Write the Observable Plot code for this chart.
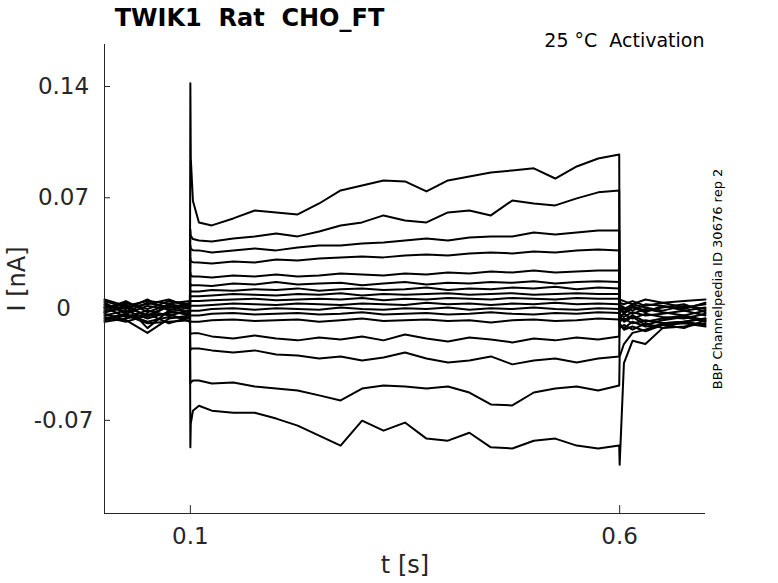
<!DOCTYPE html>
<html><head><meta charset="utf-8">
<script src="https://cdn.jsdelivr.net/npm/d3@7"></script>
<script src="https://cdn.jsdelivr.net/npm/@observablehq/plot@0.6"></script>
<style>body{margin:0;background:#fff;}</style>
</head><body><div id="chart"></div>
<script>
// time grid (s): pre-step, step onset transient, step, post-step
const preT = [0, 0.025, 0.05, 0.075, 0.0995];
const spikeT = [0.1, 0.1005, 0.103];
const stepT = [0.11, 0.125, 0.15, 0.175, 0.2, 0.225, 0.25, 0.275, 0.3, 0.325, 0.35, 0.375, 0.4, 0.425, 0.45, 0.475, 0.5, 0.525, 0.55, 0.575, 0.5995];
const postT = [0.6, 0.605, 0.615, 0.63, 0.65, 0.675, 0.7];

// current (nA) of each sweep, aligned with the grid above
const sweep01 = [0.003, -0.002, 0.004, 0.001, 0.002, 0.142, 0.095, 0.068,
  0.0545, 0.0526, 0.057, 0.062, 0.0608, 0.0595, 0.0664, 0.0746, 0.0777, 0.0809, 0.0803, 0.074, 0.0809, 0.0834, 0.0859, 0.0872, 0.0885, 0.0821, 0.0897, 0.0947, 0.0972,
  0.004, 0.003, 0.005, 0.002, 0.004, 0.001, 0.003];
const sweep02 = [0.006, 0.002, 0.005, 0.0035, 0.005, 0.05, 0.046, 0.044,
  0.0431, 0.0425, 0.0444, 0.0457, 0.0475, 0.0457, 0.0488, 0.0526, 0.0545, 0.0589, 0.0557, 0.0545, 0.0608, 0.062, 0.0589, 0.0683, 0.0664, 0.0652, 0.0696, 0.0734, 0.0746,
  0.006, 0.005, 0.003, 0.006, 0.004, 0.005, 0.006];
const sweep03 = [-0.001, 0.004, 0.0, 0.005, 0.003, 0.04, 0.038, 0.037,
  0.0369, 0.0356, 0.0369, 0.0381, 0.0369, 0.0387, 0.04, 0.04, 0.0413, 0.0419, 0.0431, 0.0444, 0.0431, 0.045, 0.0457, 0.0457, 0.0482, 0.0469, 0.0482, 0.0494, 0.0494,
  0.002, 0.0, 0.003, 0.001, -0.001, 0.002, 0.0];
const sweep04 = [0.002, 0.0, 0.006, -0.001, 0.004, 0.032, 0.03, 0.0295,
  0.0293, 0.0287, 0.0299, 0.0293, 0.0312, 0.0306, 0.0318, 0.0325, 0.0331, 0.0325, 0.0337, 0.0343, 0.0337, 0.035, 0.0356, 0.035, 0.0362, 0.0356, 0.0369, 0.0375, 0.0369,
  0.003, 0.001, -0.001, 0.003, 0.002, 0.0, 0.004];
const sweep05 = [0.0, 0.005, -0.002, 0.003, 0.001, 0.023, 0.021, 0.0205,
  0.0205, 0.0199, 0.0211, 0.0205, 0.0218, 0.0205, 0.0211, 0.0224, 0.0218, 0.0211, 0.0224, 0.0218, 0.023, 0.0224, 0.0236, 0.023, 0.0243, 0.023, 0.0236, 0.0243, 0.0243,
  0.001, -0.002, 0.002, -0.001, 0.001, 0.003, -0.002];
const sweep06 = [0.004, -0.003, 0.002, 0.0, -0.002, 0.016, 0.015, 0.015,
  0.015, 0.0145, 0.016, 0.0155, 0.017, 0.0155, 0.016, 0.0165, 0.015, 0.016, 0.017, 0.0155, 0.0165, 0.016, 0.017, 0.0165, 0.0175, 0.016, 0.017, 0.0175, 0.017,
  0.0, -0.003, 0.001, -0.002, 0.002, -0.001, 0.001];
const sweep07 = [-0.002, 0.001, -0.004, 0.002, 0.0, 0.012, 0.011, 0.011,
  0.011, 0.012, 0.0115, 0.0125, 0.012, 0.013, 0.0115, 0.0125, 0.013, 0.012, 0.0125, 0.0135, 0.012, 0.013, 0.0125, 0.0135, 0.013, 0.014, 0.0125, 0.0135, 0.013,
  -0.002, 0.0, -0.003, 0.0, -0.002, -0.004, -0.001];
const sweep08 = [-0.004, -0.001, -0.006, -0.002, -0.003, 0.008, 0.008, 0.008,
  0.008, 0.0085, 0.0095, 0.009, 0.0085, 0.0095, 0.009, 0.01, 0.0085, 0.0095, 0.009, 0.0095, 0.01, 0.009, 0.0095, 0.01, 0.009, 0.0095, 0.01, 0.0095, 0.0095,
  -0.003, -0.005, -0.002, -0.004, -0.003, -0.001, -0.004];
const sweep09 = [0.001, -0.005, -0.001, -0.004, -0.001, 0.005, 0.005, 0.005,
  0.005, 0.0055, 0.006, 0.0065, 0.0055, 0.006, 0.0065, 0.006, 0.007, 0.0055, 0.0065, 0.006, 0.007, 0.0065, 0.006, 0.007, 0.0065, 0.006, 0.007, 0.0065, 0.0065,
  -0.005, -0.003, -0.006, -0.003, -0.005, -0.006, -0.003];
const sweep10 = [-0.006, -0.003, -0.008, -0.005, -0.006, 0.002, 0.002, 0.002,
  0.002, 0.0025, 0.0035, 0.003, 0.0025, 0.0035, 0.003, 0.0025, 0.0035, 0.003, 0.0025, 0.004, 0.003, 0.0035, 0.0025, 0.0035, 0.003, 0.004, 0.003, 0.0035, 0.003,
  -0.006, -0.007, -0.004, -0.008, -0.006, -0.004, -0.007];
const sweep11 = [-0.003, -0.007, -0.015, -0.006, -0.004, -0.001, -0.001, -0.001,
  -0.001, 0.0, 0.0005, -0.0005, 0.0005, 0.0, -0.0005, 0.001, 0.0, -0.0005, 0.0005, 0.0, 0.001, -0.0005, 0.0005, 0.0, 0.001, 0.0, -0.0005, 0.0005, 0.0,
  -0.008, -0.006, -0.009, -0.007, -0.009, -0.008, -0.006];
const sweep12 = [-0.007, -0.004, -0.009, -0.008, -0.007, -0.004, -0.004, -0.004,
  -0.004, -0.003, -0.0025, -0.0035, -0.003, -0.0025, -0.0035, -0.003, -0.002, -0.0035, -0.003, -0.0025, -0.0035, -0.003, -0.002, -0.003, -0.0035, -0.0025, -0.003, -0.002, -0.0025,
  -0.01, -0.012, -0.008, -0.011, -0.01, -0.009, -0.011];
const sweep13 = [-0.008, -0.006, -0.003, -0.009, -0.005, -0.008, -0.008, -0.008,
  -0.008, -0.007, -0.0065, -0.0075, -0.007, -0.0065, -0.008, -0.007, -0.006, -0.0075, -0.007, -0.0065, -0.0075, -0.007, -0.0085, -0.007, -0.0065, -0.0075, -0.007, -0.006, -0.0065,
  -0.012, -0.01, -0.013, -0.009, -0.012, -0.011, -0.009];
const sweep14 = [0.005, 0.001, 0.003, 0.006, 0.001, -0.016, -0.0155, -0.0153,
  -0.0153, -0.0172, -0.0185, -0.0166, -0.0185, -0.0197, -0.0179, -0.0191, -0.0172, -0.0197, -0.016, -0.0185, -0.0204, -0.0179, -0.0191, -0.021, -0.0185, -0.0197, -0.0179, -0.0191, -0.0172,
  -0.004, -0.008, -0.005, -0.01, -0.007, -0.005, -0.008];
const sweep15 = [-0.005, -0.008, -0.004, -0.003, -0.008, -0.026, -0.025, -0.0248,
  -0.0248, -0.026, -0.0273, -0.026, -0.0286, -0.0292, -0.0311, -0.0298, -0.0323, -0.0305, -0.0273, -0.0311, -0.0336, -0.0323, -0.0298, -0.0348, -0.0323, -0.0311, -0.0336, -0.0311, -0.0298,
  -0.009, -0.013, -0.011, -0.014, -0.01, -0.012, -0.007];
const sweep16 = [0.001, 0.003, -0.005, 0.002, -0.002, -0.047, -0.046, -0.045,
  -0.0449, -0.0468, -0.0462, -0.0487, -0.05, -0.0512, -0.0543, -0.0575, -0.05, -0.0481, -0.0487, -0.05, -0.0487, -0.0525, -0.06, -0.0606, -0.0525, -0.05, -0.0487, -0.0512, -0.0481,
  -0.03, -0.022, -0.015, -0.013, -0.009, -0.008, -0.01];
const sweep17 = [-0.002, 0.002, -0.012, -0.001, -0.004, -0.087, -0.072, -0.064,
  -0.0608, -0.0639, -0.0652, -0.0652, -0.0689, -0.0733, -0.0796, -0.0859, -0.0702, -0.0765, -0.0714, -0.0815, -0.0828, -0.0778, -0.087, -0.0877, -0.0828, -0.0815, -0.0859, -0.0877, -0.0859,
  -0.098, -0.034, -0.02, -0.022, -0.012, -0.008, -0.006];

const xTicks = [0.1, 0.6];
const xTickLabels = ["0.1", "0.6"];
const yTicks = [-0.07, 0, 0.07, 0.14];
const yTickLabels = ["-0.07", "0", "0.07", "0.14"];
const titleText = "TWIK1  Rat  CHO_FT";
const conditionText = "25 °C  Activation";
const sourceText = "BBP Channelpedia ID 30676 rep 2";
const xLabel = "t [s]";
const yLabel = "I [nA]";
const xMin = 0, xMax = 0.7, yMin = -0.1286, yMax = 0.1664;

const timePoints = preT.concat(spikeT, stepT, postT);
const sweeps = [sweep01, sweep02, sweep03, sweep04, sweep05, sweep06, sweep07, sweep08, sweep09,
  sweep10, sweep11, sweep12, sweep13, sweep14, sweep15, sweep16, sweep17];
const rows = sweeps.flatMap((vals, i) => vals.map((v, j) => ({t: timePoints[j], v, sweep: i})));

const ink = "#262626";
const chart = Plot.plot({
  width: 778, height: 583,
  marginLeft: 104, marginRight: 73, marginTop: 44, marginBottom: 70,
  x: {domain: [xMin, xMax], axis: null},
  y: {domain: [yMin, yMax], axis: null},
  style: {fontFamily: "DejaVu Sans", background: "white", overflow: "visible"},
  marks: [
    Plot.line(rows, {x: "t", y: "v", z: "sweep", stroke: "black", strokeWidth: 2}),
    Plot.ruleX([xMin], {y1: yMin, y2: yMax, stroke: ink}),
    Plot.ruleY([yMin], {x1: xMin, x2: xMax, stroke: ink}),
    Plot.ruleY(yTicks, {x1: xMin, x2: xMin + 0.007, stroke: ink}),
    Plot.ruleX(xTicks, {y1: yMin, y2: yMin + 0.005, stroke: ink}),
    Plot.text(yTicks, {x: xMin, y: d => d, text: (d, i) => yTickLabels[i], dx: -41, textAnchor: "middle", lineAnchor: "middle", fontSize: 23, fill: ink}),
    Plot.text(xTicks, {x: d => d, y: yMin, text: (d, i) => xTickLabels[i], dy: 23, textAnchor: "middle", lineAnchor: "middle", fontSize: 23, fill: ink}),
    Plot.text([xLabel], {frameAnchor: "bottom", dy: 52, textAnchor: "middle", lineAnchor: "middle", fontSize: 24, fill: ink}),
    Plot.text([yLabel], {frameAnchor: "left", dx: -87, rotate: -90, textAnchor: "middle", lineAnchor: "middle", fontSize: 24, fill: ink}),
    Plot.text([titleText], {frameAnchor: "top-left", dx: 145, dy: -26.5, textAnchor: "middle", lineAnchor: "middle", fontSize: 24, fontWeight: "bold", fill: "black"}),
    Plot.text([conditionText], {frameAnchor: "top-right", dx: -1, dy: -4, textAnchor: "end", lineAnchor: "middle", fontSize: 19, fill: "black"}),
    Plot.text([sourceText], {frameAnchor: "right", dx: 12, rotate: -90, textAnchor: "middle", lineAnchor: "middle", fontSize: 13, fill: "black"})
  ]
});
document.getElementById("chart").appendChild(chart);
</script>
</body></html>
